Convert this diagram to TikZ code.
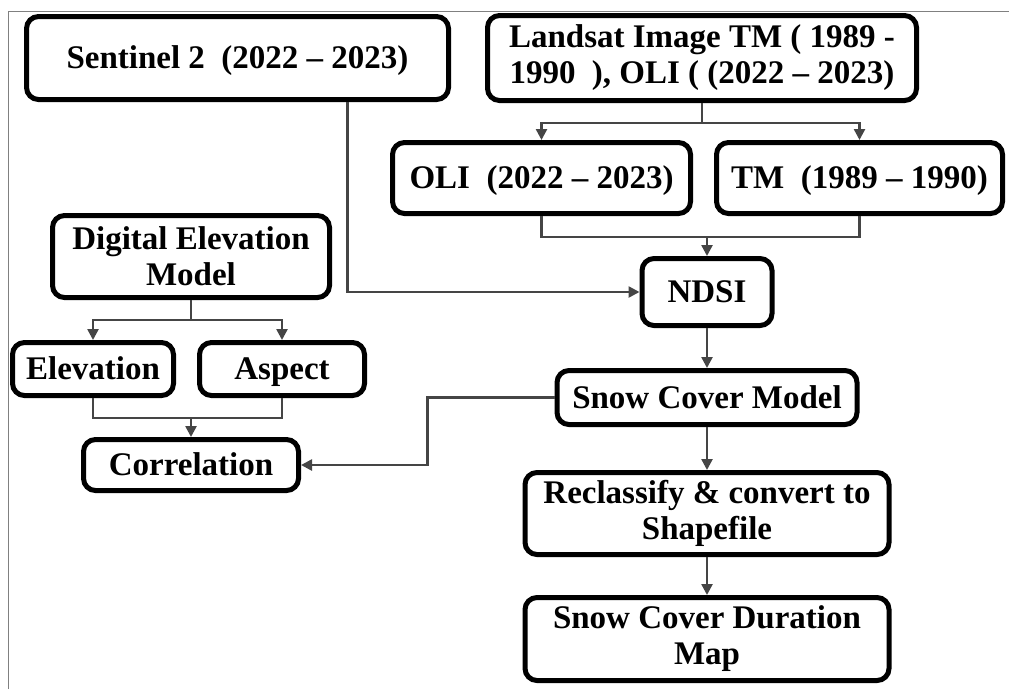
\documentclass[tikz,border=0pt]{standalone}
\usepackage{fontspec}
\setmainfont{Liberation Serif}
\usetikzlibrary{arrows.meta}
\definecolor{linegray}{HTML}{454545}
\tikzset{
  box/.style={draw, line width=5pt, rounded corners=12pt, inner sep=0pt,
    align=center, font=\bfseries\fontsize{33}{36}\selectfont},
  oneline/.style={text height=24pt, text depth=3pt},
  link/.style={draw=linegray, line width=2.5pt,
    -{Triangle[length=11pt,width=11pt]}},
  plain/.style={draw=linegray, line width=2.5pt}
}
\begin{document}
\begin{tikzpicture}[x=1pt,y=-1pt]
\useasboundingbox (0,0) rectangle (1009,689);
\draw[gray, line width=1pt] (8,689) -- (8,11) -- (1009,11);
\node[box, oneline, minimum width=422pt, minimum height=83pt] (sent) at (237.5,58) {Sentinel 2\ \ (2022 -- 2023)};
\node[box, minimum width=429pt, minimum height=85pt] (land) at (702,58) {Landsat Image TM ( 1989 -\\1990\ \ ), OLI ( (2022 -- 2023)};
\node[box, oneline, minimum width=298pt, minimum height=71pt] (oli) at (541.5,178) {OLI\ \ (2022 -- 2023)};
\node[box, oneline, minimum width=286pt, minimum height=71pt] (tm) at (859.5,178) {TM\ \ (1989 -- 1990)};
\node[box, minimum width=277pt, minimum height=82pt] (dem) at (191,256.5) {Digital Elevation\\Model};
\node[box, oneline, minimum width=130pt, minimum height=67pt] (ndsi) at (707,292) {NDSI};
\node[box, oneline, minimum width=161pt, minimum height=53pt] (elev) at (93,369) {Elevation};
\node[box, oneline, minimum width=165pt, minimum height=53pt] (asp) at (282,369) {Aspect};
\node[box, oneline, minimum width=300pt, minimum height=54pt] (scm) at (707,397.5) {Snow Cover Model};
\node[box, oneline, minimum width=215pt, minimum height=51pt] (corr) at (191,465) {Correlation};
\node[box, minimum width=364pt, minimum height=82pt] (recl) at (707,513.5) {Reclassify \& convert to\\Shapefile};
\node[box, minimum width=364pt, minimum height=83pt] (dur) at (707,639) {Snow Cover Duration\\Map};
\coordinate (imerge) at (707,237);
\coordinate (dmerge) at (191,418);
\draw[plain] (land.south) -- ++(0,20) coordinate (lsplit);
\draw[link] (lsplit) -| (oli.north);
\draw[link] (lsplit) -| (tm.north);
\draw[plain] (oli.south) |- (imerge) -| (tm.south);
\draw[link] (imerge) -- (ndsi.north);
\draw[link] ([xshift=110pt]sent.south) |- (ndsi.west);
\draw[link] (ndsi.south) -- (scm.north);
\draw[link] (scm.west) -- ++(-127,0) |- (corr.east);
\draw[link] (scm.south) -- (recl.north);
\draw[link] (recl.south) -- (dur.north);
\draw[plain] (dem.south) -- ++(0,20) coordinate (dsplit);
\draw[link] (dsplit) -| (elev.north);
\draw[link] (dsplit) -| (asp.north);
\draw[plain] (elev.south) |- (dmerge) -| (asp.south);
\draw[link] (dmerge) -- (corr.north);
\end{tikzpicture}
\end{document}
